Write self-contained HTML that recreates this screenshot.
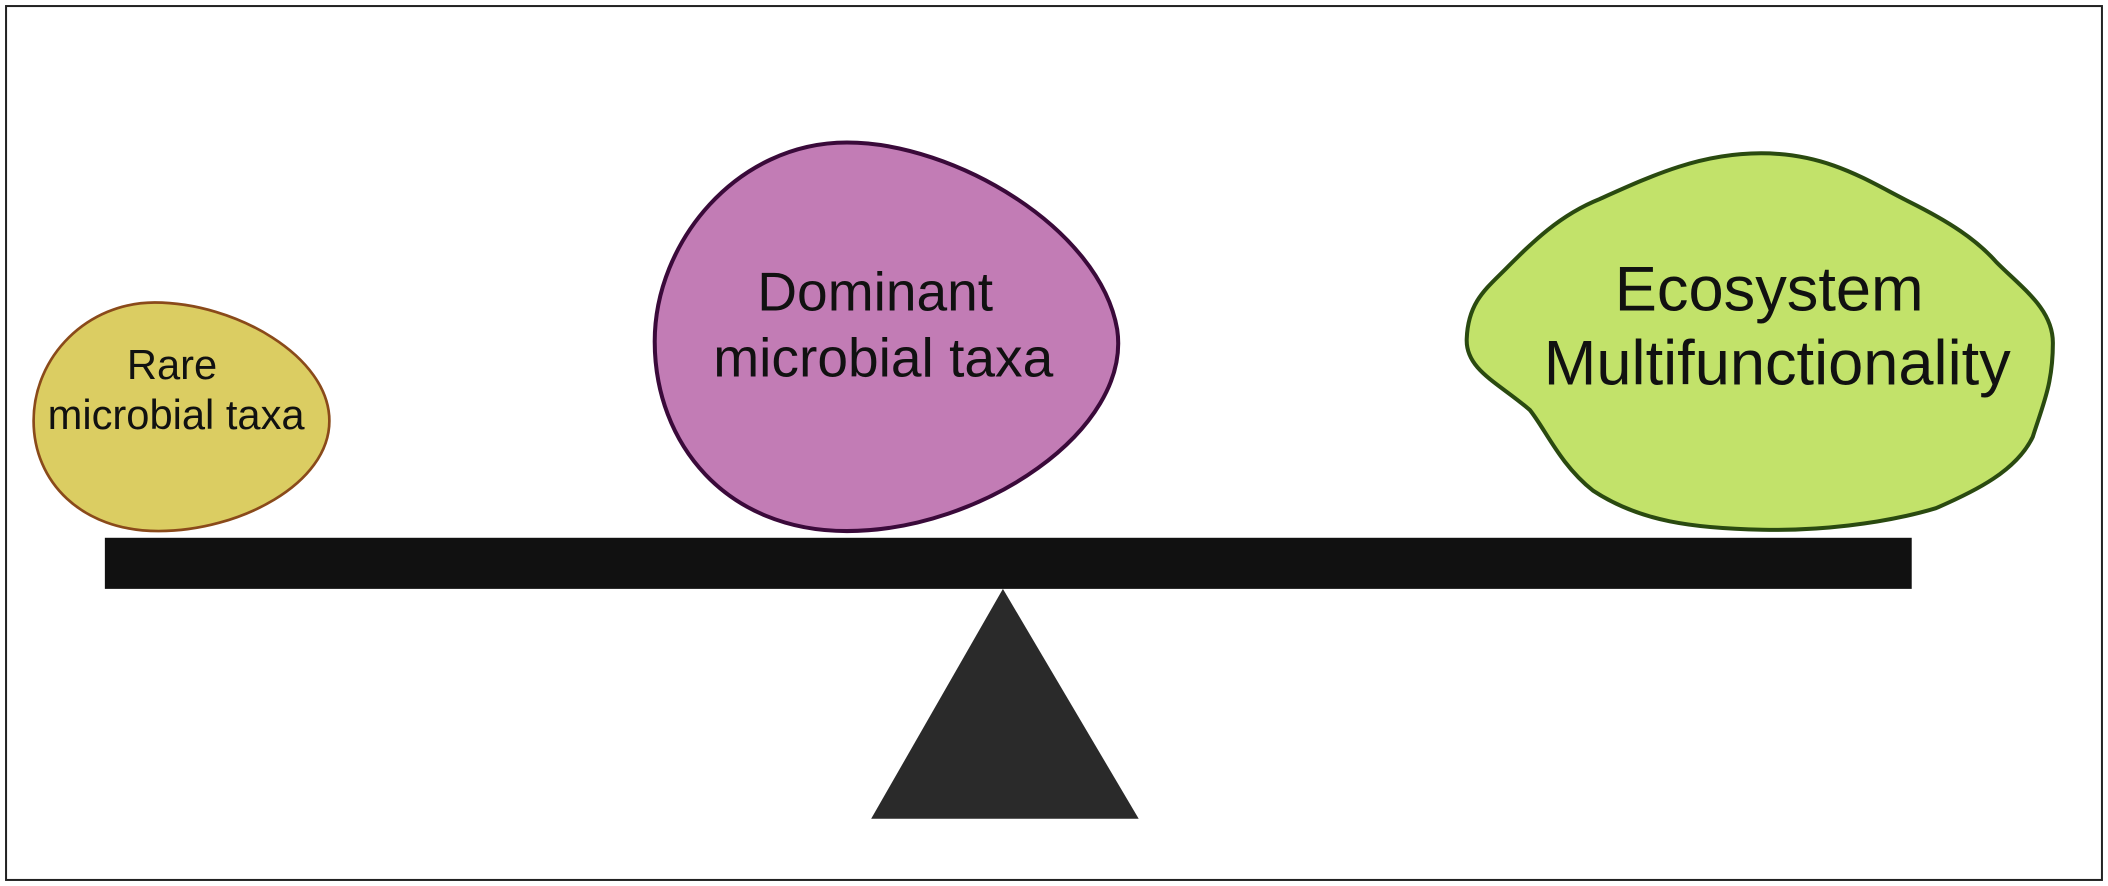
<!DOCTYPE html>
<html><head><meta charset="utf-8"><style>
html,body{margin:0;padding:0;background:#fff;}
svg{display:block;}
text{font-family:"Liberation Sans",sans-serif;fill:#111;text-anchor:middle;}
</style></head><body>
<svg width="2108" height="886" viewBox="0 0 1568 659" preserveAspectRatio="none" xmlns="http://www.w3.org/2000/svg">
<rect x="0" y="0" width="1568" height="659" fill="#fff"/>
<rect x="4.5" y="4.5" width="1559" height="650" fill="none" stroke="#222" stroke-width="1.5"/>
<!-- Rare blob -->
<path d="M115,225 C175,225 245,265 245,313 C245,360 178,395 118,395 C60,395 25,358 25,313 C25,265 65,225 115,225 Z" fill="#dbcd62" stroke="#8a4a1a" stroke-width="2"/>
<text x="128" y="282" font-size="31">Rare</text>
<text x="131" y="319" font-size="31">microbial taxa</text>
<!-- Dominant blob -->
<path d="M630,106 C710,106 818,170 831,245 C842,320 730,395 630,395 C540,395 487,330 487,254 C487,180 548,106 630,106 Z" fill="#c27cb5" stroke="#3a0a3a" stroke-width="3"/>
<text x="651" y="231" font-size="41">Dominant</text>
<text x="657" y="280" font-size="41">microbial taxa</text>
<!-- Ecosystem blob -->
<path d="M1310,114 C1360,114 1390,135 1420,150 C1450,165 1470,178 1485,195 C1505,215 1527,230 1527,255 C1527,285 1520,300 1512,325 C1500,350 1470,365 1440,378 C1400,390 1350,395 1311,394 C1260,393 1220,388 1185,365 C1160,345 1150,320 1138,305 C1115,285 1090,275 1091,252 C1092,225 1105,215 1120,200 C1140,180 1160,160 1190,148 C1230,130 1265,114 1310,114 Z" fill="#c2e26a" stroke="#2a4a10" stroke-width="3"/>
<text x="1316" y="231" font-size="47">Ecosystem</text>
<text x="1322" y="286" font-size="47">Multifunctionality</text>
<!-- beam -->
<rect x="78" y="400" width="1344" height="38" fill="#111"/>
<!-- fulcrum -->
<polygon points="746,438 847,609 648,609" fill="#2a2a2a"/>
</svg>
</body></html>
